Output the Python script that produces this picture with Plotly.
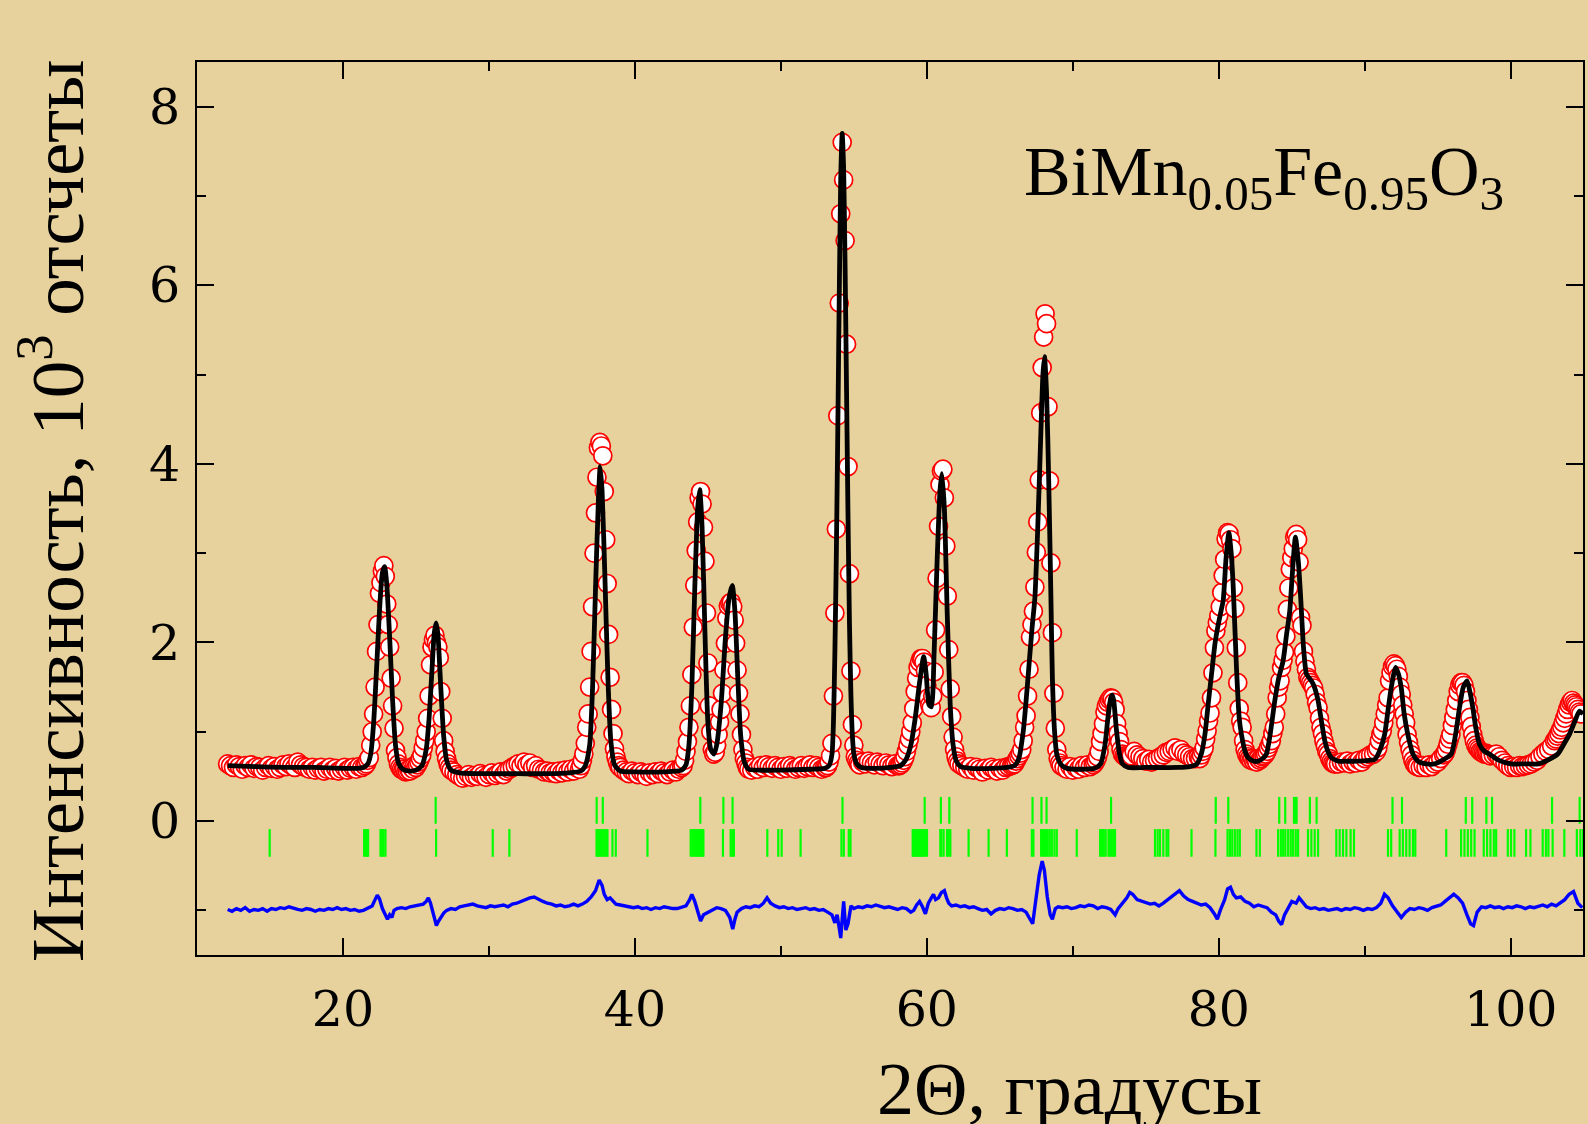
import plotly.graph_objects as go

# ---------------- DATA ----------------
# observed intensity, 10^3 counts: (start 2theta, step, values)
obs_segments = [
    (12.1, 0.2, [0.64, 0.62, 0.60, 0.63, 0.61, 0.58, 0.62, 0.60, 0.63, 0.59,
                 0.61, 0.60, 0.57, 0.60, 0.62, 0.59, 0.61, 0.58, 0.60, 0.63,
                 0.61, 0.64, 0.62, 0.60, 0.66, 0.63, 0.61, 0.60, 0.58, 0.60,
                 0.57, 0.59, 0.60, 0.56, 0.58, 0.60, 0.57, 0.59, 0.56, 0.58,
                 0.60, 0.57, 0.59, 0.60, 0.58, 0.61, 0.60, 0.62]),
    (21.6, 0.1, [0.64, 0.68, 0.71, 0.85, 1.00, 1.20, 1.50, 1.90, 2.20, 2.55,
                 2.67, 2.80, 2.86, 2.74, 2.43, 2.20, 1.95, 1.60, 1.29, 1.04,
                 0.79, 0.71, 0.64, 0.60, 0.58, 0.57, 0.58, 0.55, 0.56, 0.58,
                 0.56, 0.60, 0.58, 0.62, 0.60, 0.63, 0.66, 0.70, 0.74, 0.82,
                 0.90, 1.00, 1.15, 1.40, 1.75, 1.95, 2.03, 2.08, 2.00, 1.95,
                 1.83, 1.45, 1.15, 0.90, 0.78, 0.70, 0.64, 0.60, 0.57]),
    (27.6, 0.2, [0.55, 0.52, 0.50, 0.48, 0.50, 0.52, 0.49, 0.51, 0.50, 0.53,
                 0.51, 0.49, 0.52, 0.54, 0.51, 0.53, 0.55, 0.52, 0.56, 0.58,
                 0.60, 0.62, 0.64, 0.62, 0.66, 0.63, 0.65, 0.60, 0.62, 0.58,
                 0.57, 0.55, 0.56, 0.54, 0.55, 0.53, 0.56, 0.54, 0.57, 0.55,
                 0.58, 0.56, 0.60, 0.58]),
    (36.3, 0.1, [0.62, 0.68, 0.75, 0.87, 1.05, 1.20, 1.50, 1.90, 2.40, 3.00,
                 3.45, 3.85, 4.18, 4.24, 4.20, 4.09, 3.69, 3.15, 2.66, 2.09,
                 1.61, 1.25, 0.98, 0.81, 0.72, 0.66, 0.62, 0.60]),
    (39.2, 0.2, [0.57, 0.55, 0.53, 0.56, 0.54, 0.52, 0.55, 0.53, 0.50, 0.54,
                 0.52, 0.55, 0.53, 0.56, 0.54, 0.52, 0.55, 0.57, 0.55, 0.58,
                 0.60]),
    (43.3, 0.1, [0.62, 0.68, 0.78, 0.89, 1.05, 1.29, 1.64, 2.17, 2.64, 3.03,
                 3.35, 3.62, 3.69, 3.55, 3.29, 2.91, 2.33, 1.77, 1.29, 1.00,
                 0.80, 0.75, 0.77, 0.85, 0.97, 1.11, 1.25, 1.43, 1.69, 1.99,
                 2.27, 2.41, 2.44, 2.45, 2.40, 2.25, 1.99, 1.69, 1.43, 1.20,
                 0.97, 0.80, 0.70, 0.65, 0.60, 0.58]),
    (48.0, 0.2, [0.57, 0.60, 0.58, 0.62, 0.60, 0.63, 0.61, 0.59, 0.62, 0.60,
                 0.58, 0.61, 0.59, 0.62, 0.60, 0.58, 0.60, 0.62, 0.59, 0.61,
                 0.63, 0.60, 0.62, 0.60, 0.58, 0.60]),
    (53.1, 0.1, [0.60, 0.62, 0.66, 0.73, 0.87, 1.40, 2.33, 3.27, 4.54, 5.80,
                 6.80, 7.60, 7.18, 6.50, 5.34, 3.97, 2.77, 1.68, 1.08, 0.85,
                 0.72, 0.68, 0.65, 0.63]),
    (55.6, 0.2, [0.66, 0.64, 0.67, 0.65, 0.63, 0.66, 0.64, 0.62, 0.65, 0.63,
                 0.61, 0.64]),
    (58.0, 0.1, [0.62, 0.62, 0.63, 0.65, 0.68, 0.72, 0.78, 0.85, 0.92, 1.00,
                 1.10, 1.26, 1.45, 1.60, 1.72, 1.78, 1.82, 1.82, 1.78, 1.68,
                 1.52, 1.38, 1.30, 1.27, 1.40, 1.67, 2.14, 2.72, 3.30, 3.77,
                 3.92, 3.94, 3.62, 3.08, 2.52, 1.92, 1.48, 1.17, 0.94, 0.80,
                 0.72, 0.67, 0.64]),
    (62.4, 0.2, [0.62, 0.60, 0.58, 0.61, 0.57, 0.60, 0.58, 0.55, 0.59, 0.57,
                 0.60, 0.58, 0.56, 0.59, 0.57, 0.60, 0.61]),
    (65.8, 0.1, [0.62, 0.63, 0.64, 0.67, 0.70, 0.73, 0.76, 0.80, 0.90, 1.05,
                 1.18, 1.40, 1.70, 2.06, 2.20, 2.35, 2.62, 3.01, 3.35, 3.82,
                 4.57, 5.08, 5.42, 5.68, 5.57, 4.64, 3.81, 2.89, 2.11, 1.43,
                 1.04, 0.80, 0.70, 0.65, 0.62]),
    (69.4, 0.2, [0.60, 0.58, 0.61, 0.57, 0.60, 0.58, 0.62, 0.60, 0.63, 0.61]),
    (71.4, 0.1, [0.63, 0.65, 0.68, 0.72, 0.78, 0.89, 0.98, 1.09, 1.22, 1.29,
                 1.33, 1.36, 1.38, 1.37, 1.33, 1.25, 1.09, 0.98, 0.89, 0.80,
                 0.75, 0.73, 0.72, 0.71, 0.70, 0.72, 0.73]),
    (74.2, 0.2, [0.78, 0.74, 0.72, 0.70, 0.67, 0.69, 0.66, 0.68, 0.70, 0.72,
                 0.74, 0.77, 0.78, 0.80, 0.82, 0.78, 0.80, 0.76, 0.74, 0.72,
                 0.70, 0.70, 0.72]),
    (78.7, 0.1, [0.70, 0.74, 0.78, 0.82, 0.92, 1.01, 1.12, 1.21, 1.38, 1.66,
                 1.94, 2.13, 2.22, 2.30, 2.40, 2.56, 2.75, 2.93, 3.16, 3.23,
                 3.22, 3.15, 3.05, 2.61, 2.38, 1.94, 1.55, 1.26, 1.12, 1.05,
                 0.90, 0.80, 0.75, 0.72, 0.70, 0.68, 0.70, 0.67, 0.69, 0.66,
                 0.70, 0.68, 0.70, 0.72, 0.73, 0.75, 0.78, 0.82, 0.86, 0.90,
                 0.98, 1.05, 1.20, 1.38, 1.50, 1.57, 1.72, 1.80, 1.89, 2.07,
                 2.37, 2.61, 2.82, 2.95, 3.05, 3.18, 3.21, 3.15, 2.90, 2.28,
                 2.19, 1.90, 1.79, 1.70, 1.61, 1.58, 1.55, 1.52, 1.49, 1.42,
                 1.33, 1.27, 1.15, 1.05, 0.98, 0.90, 0.84, 0.78, 0.75, 0.70,
                 0.67, 0.65, 0.64, 0.64]),
    (88.2, 0.2, [0.64, 0.66, 0.65, 0.67, 0.64, 0.66, 0.65, 0.68, 0.66, 0.70,
                 0.72, 0.74, 0.75, 0.78]),
    (90.9, 0.1, [0.82, 0.90, 0.97, 1.01, 1.10, 1.20, 1.30, 1.38, 1.57, 1.66,
                 1.73, 1.76, 1.74, 1.70, 1.62, 1.50, 1.42, 1.30, 1.20, 1.10,
                 0.97, 0.88, 0.80, 0.74, 0.68, 0.64, 0.62, 0.61]),
    (93.8, 0.2, [0.60, 0.62, 0.60, 0.63, 0.61, 0.64, 0.66, 0.70, 0.74]),
    (95.5, 0.1, [0.76, 0.80, 0.86, 0.92, 0.97, 1.07, 1.16, 1.25, 1.35, 1.45,
                 1.52, 1.55, 1.55, 1.52, 1.45, 1.35, 1.25, 1.16, 1.06, 0.97,
                 0.90, 0.85, 0.82, 0.80, 0.78, 0.77, 0.76, 0.75, 0.76, 0.75,
                 0.74, 0.73]),
    (98.8, 0.2, [0.74, 0.75, 0.72, 0.68, 0.65, 0.62, 0.60, 0.61, 0.60, 0.62,
                 0.61, 0.62, 0.63, 0.64, 0.66, 0.68, 0.72, 0.75, 0.78, 0.80,
                 0.84, 0.90]),
    (103.1, 0.1, [0.92, 0.95, 0.98, 1.02, 1.05, 1.10, 1.15, 1.20, 1.25, 1.30,
                  1.33, 1.35, 1.32, 1.30, 1.28, 1.25, 1.22, 1.20]),
]

# calculated profile
calc_x = [12.1, 14.0, 16.0, 18.0, 20.0, 21.0, 21.4, 21.7, 21.9, 22.1, 22.3, 22.5, 22.7, 22.85,
          23.0, 23.2, 23.4, 23.6, 23.8, 24.1, 24.6, 25.0, 25.4, 25.7, 25.9, 26.1, 26.25, 26.38,
          26.5, 26.7, 26.9, 27.1, 27.4, 28.0, 30.0, 32.0, 34.0, 35.5, 36.3, 36.6, 36.9, 37.1,
          37.3, 37.5, 37.62, 37.75, 37.95, 38.15, 38.35, 38.6, 39.0, 40.0, 42.0, 43.2, 43.5,
          43.7, 43.9, 44.1, 44.3, 44.44, 44.6, 44.8, 45.0, 45.2, 45.42, 45.6, 45.9, 46.2, 46.45,
          46.67, 46.85, 47.05, 47.25, 47.5, 47.8, 48.5, 50.0, 52.0, 53.0, 53.3, 53.5, 53.6, 53.7,
          53.8, 53.9, 54.0, 54.1, 54.2, 54.3, 54.4, 54.5, 54.6, 54.7, 54.8, 54.9, 55.0, 55.2,
          55.5, 56.5, 57.5, 58.2, 58.6, 58.9, 59.2, 59.5, 59.78, 59.95, 60.15, 60.31, 60.5,
          60.7, 60.9, 61.03, 61.2, 61.4, 61.6, 61.8, 62.0, 62.3, 63.0, 64.5, 65.5, 66.0, 66.3,
          66.6, 66.8, 67.0, 67.2, 67.4, 67.6, 67.8, 67.95, 68.06, 68.2, 68.35, 68.5, 68.6,
          68.75, 68.9, 69.2, 69.6, 70.5, 71.5, 71.9, 72.2, 72.4, 72.6, 72.7, 72.8, 73.0, 73.2,
          73.4, 73.8, 75.0, 77.2, 78.0, 78.5, 78.8, 79.05, 79.3, 79.5, 79.75, 79.96, 80.15,
          80.3, 80.5, 80.69, 80.85, 80.98, 81.21, 81.4, 81.55, 81.8, 82.01, 82.4, 82.69, 83.0,
          83.26, 83.5, 83.84, 84.1, 84.4, 84.65, 84.86, 85.05, 85.25, 85.45, 85.61, 85.8, 86.0,
          86.2, 86.34, 86.55, 86.8, 87.05, 87.26, 87.5, 87.71, 88.2, 88.63, 89.5, 90.3, 90.68,
          91.0, 91.36, 91.6, 91.81, 92.11, 92.3, 92.5, 92.7, 92.95, 93.3, 93.64, 94.2, 94.78,
          95.3, 95.92, 96.2, 96.49, 96.75, 97.01, 97.2, 97.4, 97.6, 97.86, 98.2, 98.54, 99.2,
          100.02, 101.0, 101.85, 102.5, 103.22, 103.6, 104.02, 104.4, 104.7, 104.95]
calc_y = [0.62, 0.61, 0.60, 0.60, 0.59, 0.59, 0.60, 0.64, 0.75, 1.10, 1.70, 2.35, 2.78, 2.85,
          2.65, 2.05, 1.35, 0.85, 0.65, 0.58, 0.56, 0.57, 0.62, 0.80, 1.15, 1.70, 2.10, 2.22,
          2.10, 1.50, 0.95, 0.68, 0.57, 0.54, 0.53, 0.53, 0.53, 0.54, 0.56, 0.62, 0.85, 1.50,
          2.60, 3.60, 3.97, 3.70, 2.70, 1.60, 0.90, 0.63, 0.56, 0.55, 0.55, 0.57, 0.63,
          0.85, 1.50, 2.60, 3.50, 3.71, 3.30, 2.10, 1.10, 0.80, 0.75, 0.85, 1.30, 2.05, 2.50,
          2.64, 2.35, 1.60, 0.95, 0.66, 0.58, 0.57, 0.57, 0.58, 0.59, 0.62, 0.75, 1.10, 1.90,
          3.00, 4.40, 5.90, 7.20, 7.70, 7.30, 6.20, 4.80, 3.40, 2.20, 1.40, 0.95, 0.75, 0.64,
          0.60, 0.59, 0.60, 0.62, 0.70, 0.85, 1.15, 1.55, 1.84, 1.65, 1.30, 1.28, 1.90,
          2.90, 3.70, 3.89, 3.50, 2.30, 1.30, 0.85, 0.68, 0.61, 0.59, 0.59, 0.60, 0.62, 0.70,
          1.00, 1.35, 1.75, 2.15, 2.50, 3.30, 4.30, 5.00, 5.20, 4.80, 3.80, 2.50, 1.60,
          1.00, 0.75, 0.63, 0.59, 0.58, 0.59, 0.64, 0.85, 1.15, 1.38, 1.41, 1.35, 1.00, 0.75,
          0.64, 0.60, 0.60, 0.60, 0.61, 0.64, 0.75, 0.97, 1.35, 1.64, 2.00, 2.20, 2.35,
          2.47, 2.95, 3.23, 3.00, 2.65, 1.72, 1.15, 0.97, 0.78, 0.71, 0.67, 0.67, 0.70,
          0.75, 0.95, 1.35, 1.60, 1.79, 2.10, 2.35, 2.80, 3.18, 2.90, 2.50, 1.95, 1.65,
          1.60, 1.57, 1.50, 1.35, 1.10, 0.90, 0.77, 0.71, 0.67, 0.67, 0.67, 0.68, 0.69,
          0.78, 0.97, 1.25, 1.49, 1.72, 1.65, 1.49, 1.20, 0.97, 0.75, 0.67, 0.64, 0.64,
          0.68, 0.75, 0.95, 1.27, 1.50, 1.57, 1.45, 1.27, 1.05, 0.86, 0.78, 0.75, 0.68,
          0.64, 0.64, 0.64, 0.68, 0.75, 0.85, 0.97, 1.12, 1.23, 1.20]

# difference curve (obs - calc, shifted)
diff_x = [12.1, 12.4, 12.7, 13.0, 13.3, 13.6, 13.9, 14.2, 14.5, 14.8, 15.1, 15.4, 15.7, 16.0,
          16.3, 16.6, 16.9, 17.2, 17.5, 17.8, 18.1, 18.4, 18.7, 19.0, 19.3, 19.6, 19.9, 20.2,
          20.5, 20.8, 21.1, 21.4, 21.7, 22.0, 22.2, 22.35, 22.5, 22.7, 22.9, 23.05, 23.2,
          23.35, 23.5, 23.7, 24.0, 24.3, 24.6, 24.9, 25.2, 25.5, 25.7, 25.85, 26.0, 26.2, 26.4,
          26.55, 26.7, 26.9, 27.1, 27.4, 27.7, 28.0, 28.3, 28.6, 28.9, 29.2, 29.5, 29.8, 30.1,
          30.4, 30.7, 31.0, 31.3, 31.6, 31.9, 32.2, 32.5, 32.8, 33.1, 33.4, 33.7, 34.0, 34.3,
          34.6, 34.9, 35.2, 35.5, 35.8, 36.1, 36.4, 36.7, 37.0, 37.3, 37.55, 37.75, 37.9, 38.1,
          38.3, 38.5, 38.7, 39.0, 39.3, 39.6, 39.9, 40.2, 40.5, 40.8, 41.1, 41.4, 41.7, 42.0,
          42.3, 42.6, 42.9, 43.2, 43.5, 43.75, 43.9, 44.1, 44.3, 44.5, 44.7, 45.0, 45.3, 45.6,
          45.9, 46.2, 46.5, 46.7, 46.85, 47.0, 47.3, 47.6, 47.9, 48.2, 48.5, 48.8, 49.05, 49.3,
          49.6, 49.9, 50.2, 50.5, 50.8, 51.1, 51.4, 51.7, 52.0, 52.3, 52.6, 52.9, 53.2, 53.5,
          53.7, 53.85, 54.0, 54.1, 54.2, 54.3, 54.45, 54.6, 54.8, 55.0, 55.3, 55.6, 55.9, 56.2,
          56.5, 56.8, 57.1, 57.4, 57.7, 58.0, 58.3, 58.6, 58.9, 59.1, 59.3, 59.5, 59.7, 59.9,
          60.1, 60.3, 60.45, 60.6, 60.8, 61.0, 61.2, 61.35, 61.5, 61.7, 62.0, 62.3, 62.6, 62.9,
          63.2, 63.5, 63.8, 64.1, 64.4, 64.7, 65.0, 65.3, 65.6, 65.9, 66.2, 66.5, 66.8, 67.0,
          67.25, 67.45, 67.7, 67.9, 68.05, 68.25, 68.45, 68.6, 68.8, 69.0, 69.3, 69.6, 69.9,
          70.2, 70.5, 70.8, 71.1, 71.4, 71.7, 72.0, 72.3, 72.6, 72.9, 73.1, 73.4, 73.7, 73.9,
          74.1, 74.4, 74.7, 75.0, 75.3, 75.6, 75.9, 76.2, 76.5, 76.8, 77.1, 77.3, 77.6, 77.9,
          78.2, 78.5, 78.8, 79.1, 79.4, 79.7, 79.9, 80.1, 80.4, 80.6, 80.8, 81.0, 81.2, 81.5,
          81.8, 82.1, 82.4, 82.7, 83.0, 83.3, 83.6, 83.9, 84.1, 84.3, 84.5, 84.8, 85.0, 85.3,
          85.5, 85.7, 86.0, 86.3, 86.6, 86.9, 87.2, 87.5, 87.8, 88.1, 88.4, 88.7, 89.0, 89.3,
          89.6, 89.9, 90.2, 90.5, 90.8, 91.1, 91.35, 91.6, 91.9, 92.2, 92.5, 92.8, 93.1, 93.4,
          93.7, 94.0, 94.3, 94.6, 94.9, 95.2, 95.5, 95.8, 96.1, 96.4, 96.7, 97.0, 97.25, 97.45,
          97.7, 98.0, 98.3, 98.6, 98.9, 99.2, 99.5, 99.8, 100.1, 100.4, 100.7, 101.0, 101.3,
          101.6, 101.9, 102.2, 102.5, 102.8, 103.1, 103.4, 103.7, 104.0, 104.3, 104.6, 104.9]
diff_y = [-0.99, -1.01, -0.98, -1.00, -0.97, -1.01, -0.99, -1.00, -0.98, -1.01, -0.98, -0.99,
          -0.97, -0.98, -0.96, -0.98, -0.99, -1.00, -0.98, -0.99, -1.01, -0.99, -1.00, -0.98,
          -0.99, -0.97, -0.99, -0.98, -1.00, -0.99, -1.01, -1.00, -0.98, -0.95, -0.88, -0.83,
          -0.87, -0.98, -1.05, -1.10, -1.05, -1.08, -1.00, -0.98, -0.97, -0.98, -0.96, -0.95,
          -0.94, -0.93, -0.90, -0.86, -0.92, -1.05, -1.17, -1.12, -1.08, -1.03, -1.00, -0.98,
          -0.99, -0.96, -0.95, -0.94, -0.93, -0.95, -0.96, -0.97, -0.95, -0.96, -0.95, -0.94,
          -0.96, -0.93, -0.92, -0.90, -0.87, -0.86, -0.85, -0.88, -0.90, -0.92, -0.93, -0.95,
          -0.94, -0.96, -0.95, -0.93, -0.95, -0.93, -0.90, -0.85, -0.78, -0.66, -0.72, -0.82,
          -0.88, -0.86, -0.90, -0.93, -0.94, -0.95, -0.96, -0.97, -0.96, -0.98, -0.97, -0.99,
          -0.97, -0.98, -0.96, -0.97, -0.98, -0.98, -0.96, -0.95, -0.88, -0.82, -0.90, -1.00,
          -1.12, -1.05, -1.02, -0.99, -0.97, -0.98, -1.00, -1.08, -1.21, -1.10, -1.02, -0.98,
          -0.96, -0.97, -0.95, -0.96, -0.92, -0.86, -0.92, -0.95, -0.97, -0.96, -0.98, -0.97,
          -0.99, -0.98, -0.97, -0.99, -0.98, -1.00, -0.99, -1.02, -1.05, -1.14, -1.05, -1.20,
          -1.31, -1.10, -0.90, -1.22, -1.15, -0.95, -0.98, -0.96, -0.97, -0.95, -0.96, -0.94,
          -0.96, -0.97, -0.96, -0.98, -0.99, -0.97, -0.98, -1.02, -1.00, -0.94, -0.90, -0.96,
          -1.04, -0.92, -0.86, -0.82, -0.88, -0.86, -0.80, -0.78, -0.86, -0.92, -0.95, -0.94,
          -0.96, -0.95, -0.97, -0.96, -0.98, -1.00, -0.99, -1.04, -1.00, -0.98, -0.99, -0.97,
          -0.98, -1.00, -0.99, -1.02, -1.08, -1.15, -0.90, -0.60, -0.45, -0.55, -0.85, -1.05,
          -1.10, -0.98, -0.96, -0.97, -0.96, -0.98, -0.97, -0.95, -0.96, -0.94, -0.95, -0.98,
          -0.96, -0.97, -0.99, -1.05, -0.98, -0.92, -0.86, -0.80, -0.82, -0.88, -0.90, -0.92,
          -0.93, -0.92, -0.95, -0.92, -0.88, -0.84, -0.80, -0.78, -0.84, -0.88, -0.90, -0.92,
          -0.94, -0.93, -0.97, -1.04, -1.10, -1.00, -0.88, -0.76, -0.74, -0.82, -0.86, -0.85,
          -0.90, -0.92, -0.96, -0.94, -0.96, -0.97, -1.02, -1.05, -1.12, -1.16, -1.05, -0.95,
          -0.90, -0.92, -0.86, -0.90, -0.96, -0.98, -0.97, -0.99, -0.98, -1.00, -0.99, -0.98,
          -1.00, -0.98, -0.99, -0.97, -0.98, -1.00, -0.98, -0.99, -0.97, -0.92, -0.82, -0.86,
          -0.95, -1.02, -1.08, -1.02, -0.98, -0.99, -0.97, -0.98, -1.00, -0.97, -0.95, -0.94,
          -0.90, -0.86, -0.82, -0.86, -0.92, -1.05, -1.15, -1.17, -1.02, -0.96, -0.97, -0.95,
          -0.97, -0.96, -0.98, -0.96, -0.97, -0.95, -0.96, -0.98, -0.96, -0.97, -0.95, -0.94,
          -0.96, -0.93, -0.95, -0.92, -0.88, -0.82, -0.79, -0.92, -0.97]

# Bragg reflection positions, two phases
bragg_upper = [26.35, 37.38, 37.80, 44.48, 46.06, 46.69, 54.22, 59.85, 60.96, 61.54, 67.24,
               67.85, 68.20, 72.62, 79.79, 80.65, 84.14, 84.55, 85.15, 85.25, 85.33, 86.24,
               86.70, 91.90, 92.55, 96.92, 97.36, 98.33, 98.72, 102.83, 104.72]
bragg_lower = [14.98, 21.45, 21.55, 21.65, 21.72, 22.57, 22.68, 22.78, 22.91, 26.38, 30.26,
               31.40, 37.37, 37.47, 37.56, 37.67, 37.78, 37.90, 38.01, 38.12, 38.46, 38.69,
               40.86, 43.82, 43.93, 44.05, 44.16, 44.25, 44.34, 44.43, 44.51, 44.60, 44.69,
               46.03, 46.56, 46.67, 46.78, 49.07, 49.82, 50.05, 51.35, 54.15, 54.31, 54.65,
               54.77, 59.03, 59.12, 59.21, 59.30, 59.39, 59.47, 59.55, 59.63, 59.71, 59.80,
               59.90, 60.01, 60.92, 61.00, 61.15, 61.38, 61.50, 61.61, 62.86, 64.23, 65.48,
               67.19, 67.30, 67.83, 67.95, 68.06, 68.17, 68.28, 68.42, 68.56, 68.74, 68.90,
               70.27, 71.87, 72.00, 72.12, 72.25, 72.44, 72.55, 72.66, 72.77, 72.89, 75.63,
               75.81, 75.97, 76.20, 76.42, 76.54, 78.13, 79.77, 80.60, 80.76, 80.92, 81.10,
               81.28, 81.44, 82.58, 82.81, 84.06, 84.25, 84.41, 84.56, 84.75, 84.93, 85.09,
               85.27, 85.43, 86.11, 86.34, 86.57, 86.80, 88.05, 88.28, 88.51, 88.74, 89.03,
               89.26, 91.59, 91.81, 92.39, 92.61, 92.84, 93.07, 93.30, 93.46, 95.58, 96.60,
               96.83, 97.06, 97.29, 97.52, 98.15, 98.38, 98.61, 98.84, 99.00, 99.80, 100.02,
               100.25, 101.05, 101.35, 102.19, 102.41, 102.58, 102.87, 103.67, 104.53, 104.77,
               104.95]

x_ticks = [20, 40, 60, 80, 100]
y_ticks = [0, 2, 4, 6, 8]

# ---------------- STYLE ----------------
BG = "#E7D29D"
FONT = "Liberation Serif, Times New Roman, serif"
TICK_FONT = "DejaVu Serif, serif"
UPPER_ROW = (0.27, -0.03)
LOWER_ROW = (-0.09, -0.40)

obs_x, obs_y = [], []
for start, step, vals in obs_segments:
    for i, v in enumerate(vals):
        obs_x.append(round(start + i * step, 3))
        obs_y.append(v)


def tick_trace(pos, row):
    xs, ys = [], []
    for p in pos:
        xs += [p, p, None]
        ys += [row[0], row[1], None]
    return go.Scatter(x=xs, y=ys, mode="lines", line=dict(color="#00FF00", width=2.2),
                      hoverinfo="skip")


fig = go.Figure()
fig.add_trace(go.Scatter(x=obs_x, y=obs_y, mode="markers",
                         marker=dict(symbol="circle", size=18, color="white",
                                     line=dict(color="#FF0000", width=1.7))))
fig.add_trace(go.Scatter(x=calc_x, y=calc_y, mode="lines",
                         line=dict(color="black", width=4.8, shape="spline", smoothing=0.6)))
fig.add_trace(tick_trace(bragg_upper, UPPER_ROW))
fig.add_trace(tick_trace(bragg_lower, LOWER_ROW))
fig.add_trace(go.Scatter(x=diff_x, y=diff_y, mode="lines",
                         line=dict(color="#0000FF", width=3.4)))

axis_common = dict(showline=True, linecolor="black", linewidth=2, mirror="ticks",
                   ticks="inside", ticklen=17, tickwidth=2, tickcolor="black",
                   showgrid=False, zeroline=False,
                   tickfont=dict(family=TICK_FONT, size=49, color="black"))

fig.update_layout(
    width=1588, height=1124,
    margin=dict(l=197, r=3, t=62, b=169),
    paper_bgcolor=BG, plot_bgcolor=BG,
    showlegend=False,
    font=dict(family=FONT, color="black"),
    xaxis=dict(range=[10, 104.95], tickvals=x_ticks, ticklabelstandoff=10,
               minor=dict(ticks="inside", ticklen=9, tickwidth=2, tickcolor="black",
                          dtick=10, tick0=0),
               **axis_common),
    yaxis=dict(range=[-1.5, 8.5], tickvals=y_ticks, ticklabelstandoff=5,
               minor=dict(ticks="inside", ticklen=9, tickwidth=2, tickcolor="black",
                          dtick=1, tick0=0),
               **axis_common),
    annotations=[
        dict(text="BiMn<sub>0.05</sub>Fe<sub>0.95</sub>O<sub>3</sub>",
             xref="x", yref="y", x=66.5, y=7.21, xanchor="left", yanchor="middle",
             showarrow=False, font=dict(family=FONT, size=70, color="black")),
        dict(text="Интенсивность, 10<sup>3</sup> отсчеты",
             xref="paper", yref="paper", x=-0.1045, y=0.497, xanchor="center",
             yanchor="middle", textangle=-90, showarrow=False,
             font=dict(family=FONT, size=75, color="black")),
        dict(text="2Θ, градусы", xref="paper", yref="paper", x=0.6297, y=-0.150,
             xanchor="center", yanchor="middle", showarrow=False,
             font=dict(family=FONT, size=74, color="black")),
    ],
)

fig.write_html("out.html", config={"displayModeBar": False},
               post_script="document.body.style.margin='0';")
